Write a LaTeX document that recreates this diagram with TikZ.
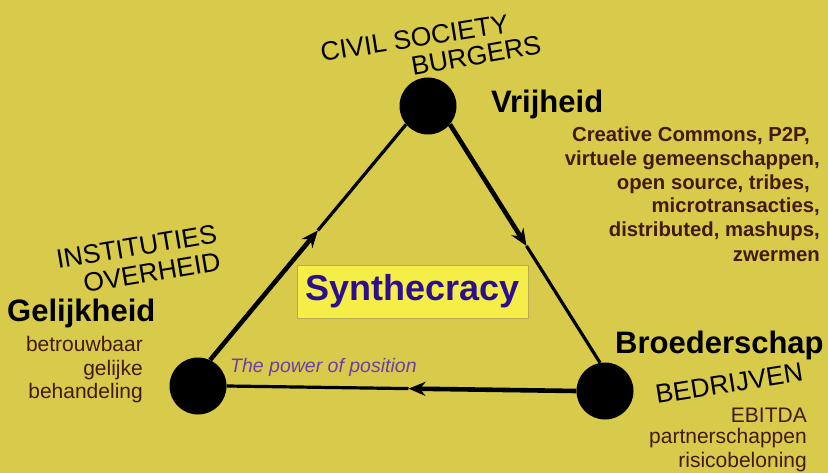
\documentclass[tikz,border=0pt]{standalone}
\usepackage{fontspec}
\setmainfont{Liberation Sans}
\usetikzlibrary{arrows.meta,calc}
\definecolor{bg}{HTML}{D8CA4A}
\definecolor{brownt}{HTML}{431A10}
\definecolor{purplet}{HTML}{6B40A8}
\definecolor{synth}{HTML}{2D0E8C}
\definecolor{boxfill}{HTML}{F6EE48}
\definecolor{boxline}{HTML}{B8AA50}
\begin{document}
\begin{tikzpicture}[x=1pt,y=-1pt,
  dot/.style={circle,fill=black,inner sep=0pt,minimum size=57pt},
  thickl/.style={line width=4.6pt},
  thinl/.style={line width=3.2pt},
  tip/.style={-{Stealth[length=17pt,width=14pt]}},
  group/.style={inner sep=0pt,text=black,font=\fontsize{26.5}{30}\selectfont},
  value/.style={inner sep=0pt,text=black,font=\fontsize{31}{34}\selectfont\bfseries},
  item/.style={inner sep=0pt,text=brownt,font=\fontsize{21}{24}\selectfont},
  bitem/.style={inner sep=0pt,text=brownt,font=\fontsize{20.3}{24}\selectfont\bfseries},
]
\useasboundingbox (0,0) rectangle (828,473);
\fill[bg] (0,0) rectangle (828,473);

% centre box
\node[draw=boxline,fill=boxfill,line width=0.6pt,minimum width=231pt,minimum height=53pt,inner sep=0pt,
      text=synth,font=\fontsize{36}{40}\selectfont\bfseries] (S) at (412.5,291.5) {Synthecracy};

% vertices
\node[dot] (T) at (428,106) {};
\node[dot] (L) at (198,386) {};
\node[dot] (R) at (605,391) {};

% connectors
\coordinate (mL) at ($(L.65)!0.55!(T.-140)$);
\coordinate (mR) at ($(T.-40)!0.51!(R.100)$);
\coordinate (mB) at ($(R.west)!0.48!(L.east)$);
\draw[thickl,tip] (L.65) -- (mL);
\draw[thinl] (mL) -- (T.-140);
\draw[thickl,tip] (T.-40) -- (mR);
\draw[thinl] (mR) -- (R.100);
\draw[thickl,tip] (R.west) -- (mB);
\draw[thinl] (mB) -- (L.east);

% top group
\node[group,anchor=base west,rotate=9] (cs) at (322,62) {CIVIL SOCIETY};
\node[group,anchor=base west,rotate=10] (bu) at (413,76) {BURGERS};
\node[value,anchor=base west] (vr) at (491,113) {Vrijheid};
\node[bitem,anchor=base east] (v1) at (820,142) {Creative Commons, P2P,\kern10pt};
\node[bitem,anchor=base east] (v2) at (820,166) {virtuele gemeenschappen,};
\node[bitem,anchor=base east] (v3) at (820,190) {open source, tribes,\kern10pt};
\node[bitem,anchor=base east] (v4) at (820,213) {microtransacties,};
\node[bitem,anchor=base east] (v5) at (820,237) {distributed, mashups,};
\node[bitem,anchor=base east] (v6) at (820,262) {zwermen};

% left group
\node[group,anchor=base west,rotate=9.5] (in) at (58,269) {INSTITUTIES};
\node[group,anchor=base west,rotate=9.5] (ov) at (85,293) {OVERHEID};
\node[value,anchor=base west] (ge) at (7,322) {Gelijkheid};
\node[item,anchor=base east] (g1) at (143,352) {betrouwbaar};
\node[item,anchor=base east] (g2) at (143,375) {gelijke};
\node[item,anchor=base east] (g3) at (143,398) {behandeling};

\node[inner sep=0pt,anchor=base west,text=purplet,font=\fontsize{19.5}{22}\selectfont\itshape] (pw) at (230,373) {The power of position};

% right group
\node[value,anchor=base west] (br) at (615,353) {Broederschap};
\node[group,anchor=base west,rotate=9] (be) at (657,404) {BEDRIJVEN};
\node[item,anchor=base east] (b1) at (807,422) {EBITDA};
\node[item,anchor=base east] (b2) at (807,443) {partnerschappen};
\node[item,anchor=base east] (b3) at (807,467) {risicobeloning};
\end{tikzpicture}
\end{document}
